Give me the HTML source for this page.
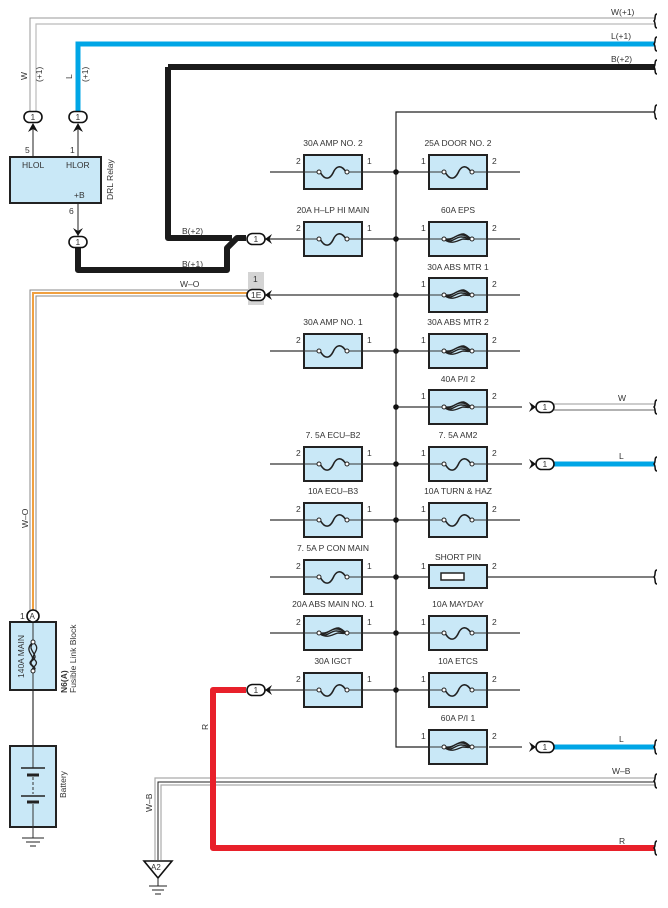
<!DOCTYPE html>
<html><head><meta charset="utf-8"><style>
html,body{margin:0;padding:0;background:#fff}
svg{display:block}
text{font-family:"Liberation Sans",sans-serif;font-size:8.5px;fill:#333}
</style></head><body>
<svg width="668" height="908" viewBox="0 0 668 908" xmlns="http://www.w3.org/2000/svg">
<defs>
<g id="fz">
<rect x="-29" y="-17" width="58" height="34" fill="#c9e8f7" stroke="#222" stroke-width="2"/>
<line x1="-29" y1="0" x2="-15" y2="0" stroke="#333" stroke-width="1"/>
<line x1="15" y1="0" x2="29" y2="0" stroke="#333" stroke-width="1"/>
<path d="M-13,0 C-8,9 -3,7 0,1 C3,-6 8,-8 13,0" fill="none" stroke="#222" stroke-width="1.6"/>
<circle cx="-14" cy="0" r="2" fill="#fff" stroke="#222" stroke-width="1"/>
<circle cx="14" cy="0" r="2" fill="#fff" stroke="#222" stroke-width="1"/>
</g>
<g id="hf">
<rect x="-29" y="-17" width="58" height="34" fill="#c9e8f7" stroke="#222" stroke-width="2"/>
<line x1="-29" y1="0" x2="-15" y2="0" stroke="#333" stroke-width="1"/>
<line x1="15" y1="0" x2="29" y2="0" stroke="#333" stroke-width="1"/>
<path d="M-13,0 C-6,3 -3,-5 4,-4 C8,-4 10,-2 13,0 M-13,1 C-6,5 -2,-3 4,-2 C8,-2 10,0 13,0 M-13,1 C-5,6 0,1 5,0 C9,0 11,1 13,0 M-12,0 C-4,1 0,-6 6,-5 C9,-4 11,-2 13,0" fill="none" stroke="#222" stroke-width="1.4"/>
<circle cx="-14" cy="0" r="2" fill="#fff" stroke="#222" stroke-width="1"/>
<circle cx="14" cy="0" r="2" fill="#fff" stroke="#222" stroke-width="1"/>
</g>
<g id="cl">
<rect x="-9" y="-5.5" width="18" height="11" rx="5.5" fill="#fff" stroke="#111" stroke-width="1.6"/>
<path d="M9,0 L16,-5 L13.5,0 L16,5 Z" fill="#111"/>
</g>
<g id="cr">
<rect x="-9" y="-5.5" width="18" height="11" rx="5.5" fill="#fff" stroke="#111" stroke-width="1.6"/>
<path d="M-9,0 L-16,-5 L-13.5,0 L-16,5 Z" fill="#111"/>
</g>
<path id="br" d="M0,-7 C-3,-7 -1,-2 -3,0 C-1,2 -3,7 0,7" fill="none" stroke="#111" stroke-width="1.5"/>
</defs>

<path d="M30,112 V18 H655" fill="none" stroke="#999" stroke-width="1"/>
<path d="M36,112 V24 H655" fill="none" stroke="#bbb" stroke-width="1.2"/>
<path d="M78,112 V44 H655" fill="none" stroke="#00a6e6" stroke-width="5"/>
<path d="M168,67 H655" fill="none" stroke="#1b1b1b" stroke-width="6"/>
<path d="M168,67 V238 H232" fill="none" stroke="#1b1b1b" stroke-width="6" stroke-linejoin="round"/>
<path d="M78,247 V270 H227 V248 L237,238 H246" fill="none" stroke="#1b1b1b" stroke-width="6" stroke-linejoin="round"/>
<text x="182" y="234">B(+2)</text>
<text x="182" y="267">B(+1)</text>

<text x="611" y="15">W(+1)</text>
<text x="611" y="39">L(+1)</text>
<text x="611" y="62">B(+2)</text>
<use href="#br" x="657" y="21"/>
<use href="#br" x="657" y="44"/>
<use href="#br" x="657" y="67"/>
<use href="#br" x="657" y="112"/>

<text transform="translate(27,80) rotate(-90)">W</text>
<text transform="translate(42,82) rotate(-90)">(+1)</text>
<text transform="translate(72,79) rotate(-90)">L</text>
<text transform="translate(88,82) rotate(-90)">(+1)</text>

<line x1="33" y1="124" x2="33" y2="157" stroke="#222"/>
<line x1="78" y1="124" x2="78" y2="157" stroke="#222"/>
<path d="M33,123 L28,132 L33,129 L38,132 Z" fill="#111"/>
<path d="M78,123 L73,132 L78,129 L83,132 Z" fill="#111"/>
<g transform="translate(33,117)"><rect x="-9" y="-5.5" width="18" height="11" rx="5.5" fill="#fff" stroke="#111" stroke-width="1.6"/><text x="-2.5" y="3">1</text></g>
<g transform="translate(78,117)"><rect x="-9" y="-5.5" width="18" height="11" rx="5.5" fill="#fff" stroke="#111" stroke-width="1.6"/><text x="-2.5" y="3">1</text></g>
<text x="25" y="153">5</text>
<text x="70" y="153">1</text>
<rect x="10" y="157" width="91" height="46" fill="#c9e8f7" stroke="#222" stroke-width="2"/>
<text x="22" y="168">HLOL</text>
<text x="66" y="168">HLOR</text>
<text x="74" y="198">+B</text>
<text transform="translate(113,200) rotate(-90)">DRL Relay</text>
<line x1="78" y1="203" x2="78" y2="236" stroke="#222"/>
<text x="69" y="214">6</text>
<path d="M78,236 L73,228 L78,231 L83,228 Z" fill="#111"/>
<g transform="translate(78,242)"><rect x="-9" y="-5.5" width="18" height="11" rx="5.5" fill="#fff" stroke="#111" stroke-width="1.6"/><text x="-2.5" y="3">1</text></g>

<path d="M655,112 H396 V747 H429" fill="none" stroke="#222" stroke-width="1.2"/>

<path d="M30,612 V290 H250" fill="none" stroke="#888" stroke-width="1"/>
<path d="M33,612 V293 H250" fill="none" stroke="#f0a040" stroke-width="2"/>
<path d="M36,612 V296 H250" fill="none" stroke="#888" stroke-width="1"/>
<text x="180" y="287">W–O</text>
<text transform="translate(28,528) rotate(-90)">W–O</text>
<rect x="248" y="272" width="16" height="33" fill="#d4d4d4"/>
<text x="253" y="282">1</text>

<g stroke="#333" stroke-width="1.2">
<line x1="270" y1="172" x2="520" y2="172"/>
<line x1="262" y1="239" x2="520" y2="239"/>
<line x1="262" y1="295" x2="520" y2="295"/>
<line x1="270" y1="351" x2="520" y2="351"/>
<line x1="396" y1="407" x2="522" y2="407"/>
<line x1="270" y1="464" x2="522" y2="464"/>
<line x1="270" y1="520" x2="520" y2="520"/>
<line x1="270" y1="577" x2="655" y2="577"/>
<line x1="270" y1="633" x2="520" y2="633"/>
<line x1="262" y1="690" x2="520" y2="690"/>
<line x1="489" y1="747" x2="522" y2="747"/>
</g>
<g fill="#111">
<circle cx="396" cy="172" r="2.8"/><circle cx="396" cy="239" r="2.8"/><circle cx="396" cy="295" r="2.8"/>
<circle cx="396" cy="351" r="2.8"/><circle cx="396" cy="407" r="2.8"/><circle cx="396" cy="464" r="2.8"/>
<circle cx="396" cy="520" r="2.8"/><circle cx="396" cy="577" r="2.8"/><circle cx="396" cy="633" r="2.8"/>
<circle cx="396" cy="690" r="2.8"/>
</g>

<use href="#fz" x="333" y="172"/>
<use href="#fz" x="333" y="239"/>
<use href="#fz" x="333" y="351"/>
<use href="#fz" x="333" y="464"/>
<use href="#fz" x="333" y="520"/>
<use href="#fz" x="333" y="577"/>
<use href="#hf" x="333" y="633"/>
<use href="#fz" x="333" y="690"/>
<text x="333" y="146" text-anchor="middle">30A AMP NO. 2</text>
<text x="333" y="213" text-anchor="middle">20A H–LP HI MAIN</text>
<text x="333" y="325" text-anchor="middle">30A AMP NO. 1</text>
<text x="333" y="438" text-anchor="middle">7. 5A ECU–B2</text>
<text x="333" y="494" text-anchor="middle">10A ECU–B3</text>
<text x="333" y="551" text-anchor="middle">7. 5A P CON MAIN</text>
<text x="333" y="607" text-anchor="middle">20A ABS MAIN NO. 1</text>
<text x="333" y="664" text-anchor="middle">30A IGCT</text>
<text x="296" y="164">2</text><text x="367" y="164">1</text>
<text x="296" y="231">2</text><text x="367" y="231">1</text>
<text x="296" y="343">2</text><text x="367" y="343">1</text>
<text x="296" y="456">2</text><text x="367" y="456">1</text>
<text x="296" y="512">2</text><text x="367" y="512">1</text>
<text x="296" y="569">2</text><text x="367" y="569">1</text>
<text x="296" y="625">2</text><text x="367" y="625">1</text>
<text x="296" y="682">2</text><text x="367" y="682">1</text>

<use href="#fz" x="458" y="172"/>
<use href="#hf" x="458" y="239"/>
<use href="#hf" x="458" y="295"/>
<use href="#hf" x="458" y="351"/>
<use href="#hf" x="458" y="407"/>
<use href="#fz" x="458" y="464"/>
<use href="#fz" x="458" y="520"/>
<rect x="429" y="565" width="58" height="23" fill="#c9e8f7" stroke="#222" stroke-width="2"/>
<rect x="441" y="573" width="23" height="7" fill="#fff" stroke="#222" stroke-width="1.5"/>
<use href="#fz" x="458" y="633"/>
<use href="#fz" x="458" y="690"/>
<use href="#hf" x="458" y="747"/>
<text x="458" y="146" text-anchor="middle">25A DOOR NO. 2</text>
<text x="458" y="213" text-anchor="middle">60A EPS</text>
<text x="458" y="270" text-anchor="middle">30A ABS MTR 1</text>
<text x="458" y="325" text-anchor="middle">30A ABS MTR 2</text>
<text x="458" y="382" text-anchor="middle">40A P/I 2</text>
<text x="458" y="438" text-anchor="middle">7. 5A AM2</text>
<text x="458" y="494" text-anchor="middle">10A TURN &amp; HAZ</text>
<text x="458" y="560" text-anchor="middle">SHORT PIN</text>
<text x="458" y="607" text-anchor="middle">10A MAYDAY</text>
<text x="458" y="664" text-anchor="middle">10A ETCS</text>
<text x="458" y="721" text-anchor="middle">60A P/I 1</text>
<text x="421" y="164">1</text><text x="492" y="164">2</text>
<text x="421" y="231">1</text><text x="492" y="231">2</text>
<text x="421" y="287">1</text><text x="492" y="287">2</text>
<text x="421" y="343">1</text><text x="492" y="343">2</text>
<text x="421" y="399">1</text><text x="492" y="399">2</text>
<text x="421" y="456">1</text><text x="492" y="456">2</text>
<text x="421" y="512">1</text><text x="492" y="512">2</text>
<text x="421" y="569">1</text><text x="492" y="569">2</text>
<text x="421" y="625">1</text><text x="492" y="625">2</text>
<text x="421" y="682">1</text><text x="492" y="682">2</text>
<text x="421" y="739">1</text><text x="492" y="739">2</text>

<g transform="translate(256,239)"><use href="#cl"/><text x="-2.5" y="3">1</text></g>
<g transform="translate(256,295)"><use href="#cl"/><text x="-5" y="3">1E</text></g>
<g transform="translate(256,690)"><use href="#cl"/><text x="-2.5" y="3">1</text></g>

<line x1="554" y1="404" x2="655" y2="404" stroke="#bbb" stroke-width="1.5"/>
<line x1="554" y1="410" x2="655" y2="410" stroke="#666" stroke-width="1"/>
<line x1="554" y1="464" x2="655" y2="464" stroke="#00a6e6" stroke-width="5"/>
<line x1="554" y1="747" x2="655" y2="747" stroke="#00a6e6" stroke-width="5"/>
<g transform="translate(545,407)"><use href="#cr"/><text x="-2.5" y="3">1</text></g>
<g transform="translate(545,464)"><use href="#cr"/><text x="-2.5" y="3">1</text></g>
<g transform="translate(545,747)"><use href="#cr"/><text x="-2.5" y="3">1</text></g>
<text x="618" y="401">W</text>
<text x="619" y="459">L</text>
<text x="619" y="742">L</text>
<use href="#br" x="657" y="407"/>
<use href="#br" x="657" y="464"/>
<use href="#br" x="657" y="577"/>
<use href="#br" x="657" y="747"/>

<path d="M155,860 V778 H655" fill="none" stroke="#aaa" stroke-width="1.2"/>
<path d="M158,860 V782 H655" fill="none" stroke="#222" stroke-width="1"/>
<path d="M161,860 V785 H655" fill="none" stroke="#aaa" stroke-width="1.2"/>
<text x="612" y="774">W–B</text>
<text transform="translate(152,812) rotate(-90)">W–B</text>
<use href="#br" x="657" y="781"/>
<path d="M144,861 H172 L158,878 Z" fill="#fff" stroke="#111" stroke-width="1.6"/>
<text x="151" y="870" style="font-size:8px">A2</text>
<line x1="158" y1="878" x2="158" y2="886" stroke="#222"/>
<line x1="149" y1="886" x2="167" y2="886" stroke="#222"/>
<line x1="152" y1="890" x2="164" y2="890" stroke="#222"/>
<line x1="155" y1="894" x2="161" y2="894" stroke="#222"/>

<path d="M246,690 H213 V848 H655" fill="none" stroke="#e8202a" stroke-width="6" stroke-linejoin="round"/>
<text transform="translate(208,730) rotate(-90)">R</text>
<text x="619" y="844">R</text>
<use href="#br" x="657" y="848"/>

<line x1="33" y1="622" x2="33" y2="746" stroke="#333" stroke-width="1.2"/>
<rect x="10" y="622" width="46" height="68" fill="#c9e8f7" stroke="#222" stroke-width="2"/>
<line x1="33" y1="622" x2="33" y2="642" stroke="#333"/>
<line x1="33" y1="671" x2="33" y2="690" stroke="#333"/>
<path d="M33,643 C26,650 40,655 33,660 C26,665 40,668 33,670 M32,643 C23,652 37,656 31,661 C27,665 37,667 33,670 M34,643 C42,650 29,655 35,660 C40,665 30,668 33,670" fill="none" stroke="#222" stroke-width="1.3"/>
<circle cx="33" cy="642" r="2" fill="#fff" stroke="#222"/>
<circle cx="33" cy="671" r="2" fill="#fff" stroke="#222"/>
<circle cx="33" cy="616" r="6" fill="#fff" stroke="#111" stroke-width="1.6"/>
<text x="29.5" y="619" style="font-size:8px">A</text>
<text x="20" y="619">1</text>
<text transform="translate(24,678) rotate(-90)">140A MAIN</text>
<text transform="translate(67,693) rotate(-90)" style="font-weight:bold">N6(A)</text>
<text transform="translate(76,693) rotate(-90)">Fusible Link Block</text>

<rect x="10" y="746" width="46" height="81" fill="#c9e8f7" stroke="#222" stroke-width="2"/>
<line x1="33" y1="746" x2="33" y2="768" stroke="#333"/>
<line x1="21" y1="768" x2="45" y2="768" stroke="#222" stroke-width="1.5"/>
<line x1="27" y1="775" x2="39" y2="775" stroke="#222" stroke-width="3"/>
<line x1="33" y1="777" x2="33" y2="794" stroke="#333" stroke-dasharray="3,2"/>
<line x1="21" y1="796" x2="45" y2="796" stroke="#222" stroke-width="1.5"/>
<line x1="27" y1="802" x2="39" y2="802" stroke="#222" stroke-width="3"/>
<line x1="33" y1="804" x2="33" y2="838" stroke="#333"/>
<text transform="translate(66,798) rotate(-90)">Battery</text>
<line x1="22" y1="838" x2="44" y2="838" stroke="#222"/>
<line x1="26" y1="842" x2="40" y2="842" stroke="#222"/>
<line x1="30" y1="846" x2="36" y2="846" stroke="#222"/>
</svg>
</body></html>
